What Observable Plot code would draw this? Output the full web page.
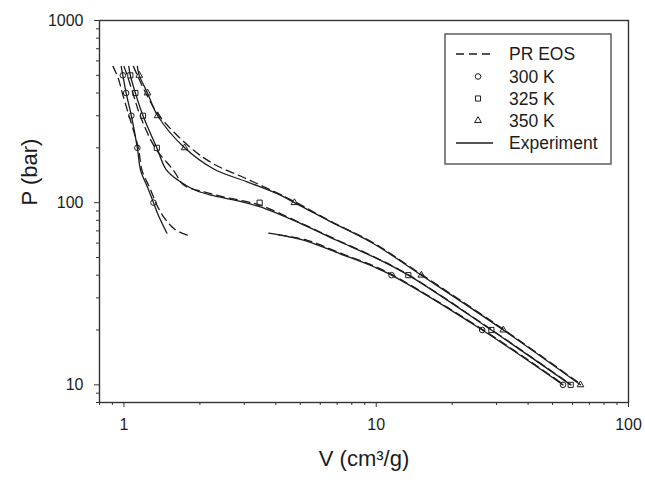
<!DOCTYPE html>
<html><head><meta charset="utf-8">
<script src="https://cdn.jsdelivr.net/npm/d3@7"></script>
<script src="https://cdn.jsdelivr.net/npm/@observablehq/plot@0.6"></script>
<style>
html,body{margin:0;padding:0;background:#fff;}
#wrap{position:relative;width:645px;height:482px;overflow:hidden;}
#legend{position:absolute;left:0;top:0;pointer-events:none;}
</style></head><body><div id="wrap"></div>
<script>
// ---------- data (V in cm3/g, P in bar) ----------
const pressureLevels = [500, 400, 300, 200, 100, 40, 20, 10];
const v300K = [0.99, 1.02, 1.07, 1.13, 1.31, 11.5, 26.3, 55];
const v325K = [1.06, 1.11, 1.19, 1.35, 3.45, 13.4, 28.6, 59];
const v350K = [1.15, 1.24, 1.36, 1.74, 4.74, 15.1, 31.9, 64.5];

// Experiment (solid)
const exp300LiqV = [0.975, 0.99, 1.02, 1.07, 1.13, 1.165, 1.245, 1.31, 1.37, 1.48];
const exp300LiqP = [560, 500, 400, 300, 200, 150, 120, 100, 85, 68];
const exp300GasV = [3.75, 4.5, 5.3, 7.2, 9.77, 11.5, 26.3, 55];
const exp300GasP = [68, 65, 61.5, 52.4, 44.5, 40, 20, 10];
const exp325V = [1.045, 1.06, 1.11, 1.19, 1.35, 1.47, 1.65, 1.92, 2.24, 2.77, 3.45, 5.0, 7.0, 9.77, 13.4, 28.6, 59];
const exp325P = [560, 500, 400, 300, 200, 152, 132, 117, 109.5, 103, 95, 77, 62, 50.3, 40, 20, 10];
const exp350V = [1.13, 1.15, 1.24, 1.36, 1.74, 2.27, 3.08, 4.17, 4.74, 6.5, 9.77, 15.1, 31.9, 64.5];
const exp350P = [560, 500, 400, 300, 200, 153, 130, 110, 100, 79.5, 59.5, 40, 20, 10];

// PR EOS (dashed)
const pr300LiqV = [0.905, 0.95, 0.985, 1.047, 1.14, 1.18, 1.268, 1.355, 1.45, 1.6, 1.8];
const pr300LiqP = [560, 480, 400, 300, 200, 150, 120, 96, 82, 71, 66];
const pr300GasV = [4.1, 5.3, 7.2, 9.77, 11.5, 26.3, 55];
const pr300GasP = [66.5, 62.3, 52.9, 45, 40.4, 20.2, 10.1];
const pr325V = [1.0, 1.03, 1.085, 1.16, 1.33, 1.575, 1.73, 2.11, 2.53, 3.0, 3.5, 5.0, 7.0, 9.77, 13.4, 28.6, 59];
const pr325P = [560, 500, 400, 300, 200, 150, 124.5, 114, 107, 102, 96.5, 77.5, 62.4, 50.6, 40.2, 20.1, 10.05];
const pr350V = [1.09, 1.13, 1.22, 1.38, 1.84, 2.27, 3.0, 4.0, 4.74, 6.5, 9.77, 15.1, 31.9, 64.5];
const pr350P = [560, 500, 400, 300, 200, 163, 137, 114, 101.5, 80, 60, 40.4, 20.2, 10.1];

// axis ticks
const xMajor = [1, 10, 100];
const xMinor = [0.8, 0.9, 2, 3, 4, 5, 6, 7, 8, 9, 20, 30, 40, 50, 60, 70, 80, 90];
const yMajor = [10, 100, 1000];
const yMinor = [8, 9, 20, 30, 40, 50, 60, 70, 80, 90, 200, 300, 400, 500, 600, 700, 800, 900];

const legendLabels = ["PR EOS", "300 K", "325 K", "350 K", "Experiment"];
const xTitle = "V (cm³/g)";
const yTitle = "P (bar)";

// ---------- helpers ----------
const rows = (v, p) => v.map((d, i) => ({V: d, P: p[i]}));
const INK = "#1c1c1c";
const FONT = "'Liberation Sans', Arial, Helvetica, sans-serif";

const solid = (v, p) => Plot.line(rows(v, p), {x: "V", y: "P", stroke: INK, strokeWidth: 1.3, curve: "catmull-rom"});
const dashed = (v, p) => Plot.line(rows(v, p), {x: "V", y: "P", stroke: INK, strokeWidth: 1.3, strokeDasharray: "8,5", curve: "catmull-rom"});
const pts = (v, symbol, r) => Plot.dot(rows(v, pressureLevels), {x: "V", y: "P", symbol, r, stroke: INK, strokeWidth: 1, fill: "none"});

const chart = Plot.plot({
  width: 645, height: 482,
  marginLeft: 99, marginRight: 17, marginTop: 20, marginBottom: 80,
  x: {type: "log", domain: [0.8, 100]},
  y: {type: "log", domain: [8, 1000]},
  style: {fontFamily: FONT, fontSize: "16px", color: INK, background: "white", overflow: "visible"},
  marks: [
    Plot.axisX(xMinor, {tickSize: 3, tickFormat: () => "", label: null, stroke: "#333"}),
    Plot.axisX(xMajor, {tickSize: 5, tickPadding: 11, tickFormat: d => String(d), label: null, fontSize: 16, stroke: "#333"}),
    Plot.axisY(yMinor, {tickSize: 3, tickFormat: () => "", label: null, stroke: "#333"}),
    Plot.axisY(yMajor, {tickSize: 5, tickPadding: 11, tickFormat: d => String(d), label: null, fontSize: 16, stroke: "#333"}),
    Plot.frame({stroke: "#333", strokeWidth: 1.4}),
    dashed(pr300LiqV, pr300LiqP),
    dashed(pr300GasV, pr300GasP),
    dashed(pr325V, pr325P),
    dashed(pr350V, pr350P),
    solid(exp300LiqV, exp300LiqP),
    solid(exp300GasV, exp300GasP),
    solid(exp325V, exp325P),
    solid(exp350V, exp350P),
    pts(v300K, "circle", 2.8),
    pts(v325K, "square", 2.9),
    pts(v350K, "triangle", 2.5),
    Plot.text([xTitle], {frameAnchor: "bottom", dy: 63, fontSize: 22, fill: INK}),
    Plot.text([yTitle], {frameAnchor: "left", dx: -70, dy: -6, rotate: -90, fontSize: 22, fill: INK})
  ]
});
const wrap = document.getElementById("wrap");
wrap.appendChild(chart);

// ---------- legend (inside plot area, top right) ----------
const lg = d3.select(wrap).append("svg").attr("id", "legend").attr("width", 645).attr("height", 482)
  .style("font-family", FONT);
lg.append("rect").attr("x", 445).attr("y", 34).attr("width", 166).attr("height", 130)
  .attr("fill", "white").attr("stroke", "#444").attr("stroke-width", 1.3);
const rowY = [54, 76.5, 98.5, 120.5, 143];
legendLabels.forEach((lab, i) => {
  const y = rowY[i];
  if (i === 0 || i === 4) {
    lg.append("line").attr("x1", 456).attr("x2", 493).attr("y1", y).attr("y2", y)
      .attr("stroke", INK).attr("stroke-width", 1.3)
      .attr("stroke-dasharray", i === 0 ? "8,5" : null);
  } else {
    const sym = [d3.symbolCircle, d3.symbolSquare, d3.symbolTriangle][i - 1];
    const r = [2.8, 2.9, 2.5][i - 1];
    lg.append("path").attr("d", d3.symbol(sym, Math.PI * r * r)())
      .attr("transform", `translate(478,${y})`).attr("fill", "none").attr("stroke", INK).attr("stroke-width", 1);
  }
  lg.append("text").attr("x", 509).attr("y", y).attr("dy", "0.36em")
    .attr("font-size", 17.5).attr("fill", INK).text(lab);
});
</script></body></html>
